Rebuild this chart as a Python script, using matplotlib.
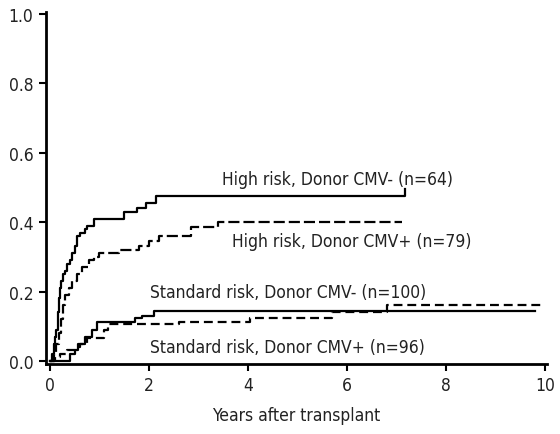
import matplotlib
matplotlib.use("Agg")
import matplotlib.pyplot as plt

# condensed sans, close to the narrow Helvetica of the original
plt.rcParams['font.family'] = ['DejaVu Sans']
plt.rcParams['font.stretch'] = 'condensed'

# High risk, donor CMV- (solid)
hr_neg_t = [0, 0.05, 0.08, 0.10, 0.13, 0.16, 0.18, 0.20, 0.23, 0.26, 0.30, 0.35, 0.40,
            0.45, 0.50, 0.55, 0.60, 0.70, 0.75, 0.90, 1.50, 1.75, 1.95, 2.15, 7.17]
hr_neg_v = [0, 0.02, 0.05, 0.07, 0.09, 0.14, 0.18, 0.21, 0.23, 0.25, 0.26, 0.28, 0.29,
            0.31, 0.33, 0.36, 0.37, 0.38, 0.39, 0.41, 0.43, 0.44, 0.455, 0.476, 0.497]
hr_neg_end = 7.18

# High risk, donor CMV+ (dashed)
hr_pos_t = [0, 0.08, 0.12, 0.18, 0.22, 0.26, 0.30, 0.38, 0.45, 0.55, 0.65, 0.78, 0.90,
            1.00, 1.40, 1.80, 2.00, 2.20, 2.85, 3.40]
hr_pos_v = [0, 0.02, 0.05, 0.08, 0.12, 0.16, 0.19, 0.21, 0.23, 0.25, 0.27, 0.29, 0.30,
            0.31, 0.32, 0.33, 0.345, 0.36, 0.385, 0.40]
hr_pos_end = 7.1

# Standard risk, donor CMV- (solid)
sr_neg_t = [0, 0.40, 0.50, 0.57, 0.70, 0.85, 0.95, 1.72, 1.85, 2.10]
sr_neg_v = [0, 0.02, 0.03, 0.05, 0.07, 0.09, 0.113, 0.125, 0.13, 0.145]
sr_neg_end = 9.8

# Standard risk, donor CMV+ (dashed)
sr_pos_t = [0, 0.10, 0.20, 0.35, 0.50, 0.60, 0.75, 1.10, 1.17, 2.60, 4.05, 5.70, 6.80]
sr_pos_v = [0, 0.01, 0.02, 0.03, 0.04, 0.05, 0.065, 0.09, 0.105, 0.113, 0.125, 0.14, 0.16]
sr_pos_end = 10.0

labels = ["High risk, Donor CMV- (n=64)", "High risk, Donor CMV+ (n=79)",
          "Standard risk, Donor CMV- (n=100)", "Standard risk, Donor CMV+ (n=96)"]

fig = plt.figure(figsize=(5.6, 4.35), dpi=100)
ax = fig.add_axes([0.082, 0.161, 0.895, 0.809])

curves = [(hr_neg_t, hr_neg_v, hr_neg_end, '-'),
          (hr_pos_t, hr_pos_v, hr_pos_end, (0, (5, 1.8))),
          (sr_neg_t, sr_neg_v, sr_neg_end, '-'),
          (sr_pos_t, sr_pos_v, sr_pos_end, (0, (4, 2.2)))]
for t, v, end, ls in curves:
    ax.step(t + [end], v + [v[-1]], where='post', color='black', lw=1.6, linestyle=ls)

# curve labels
fs = 12.5
ax.text(3.47, 0.524, labels[0], fontsize=fs, va='center', color='#222222')
ax.text(3.68, 0.346, labels[1], fontsize=fs, va='center', color='#222222')
ax.text(2.02, 0.199, labels[2], fontsize=fs, va='center', color='#222222')
ax.text(2.02, 0.040, labels[3], fontsize=fs, va='center', color='#222222')

ax.set_xlim(-0.08, 10.04)
ax.set_ylim(-0.009, 1.006)
ax.set_xticks([0, 2, 4, 6, 8, 10])
ax.set_yticks([0.0, 0.2, 0.4, 0.6, 0.8, 1.0])
ax.set_yticklabels(["0.0", "0.2", "0.4", "0.6", "0.8", "1.0"])
ax.set_xlabel("Years after transplant", fontsize=fs, labelpad=8, color='#222222')

for side in ['top', 'right']:
    ax.spines[side].set_visible(False)
for side in ['left', 'bottom']:
    ax.spines[side].set_linewidth(2)
ax.tick_params(direction='out', length=5, width=1.5, labelsize=fs, pad=4, labelcolor='#222222')

fig.savefig("out.png", dpi=100)
